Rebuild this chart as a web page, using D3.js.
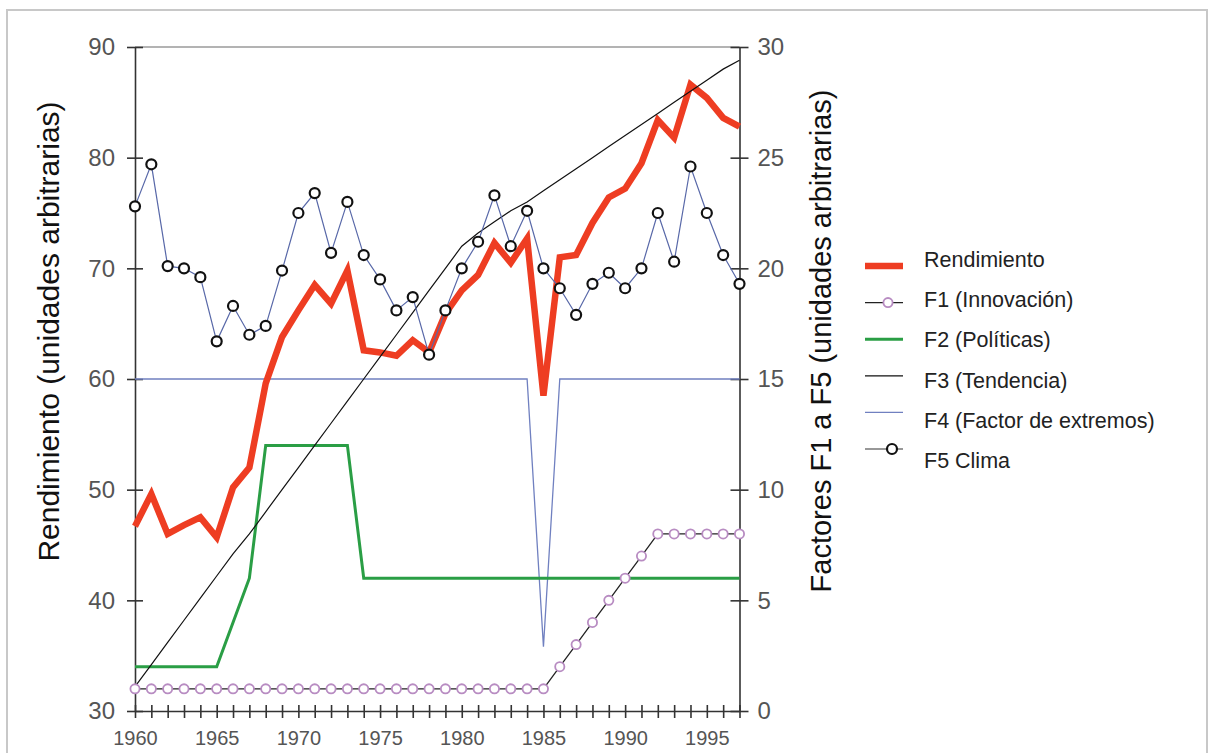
<!DOCTYPE html>
<html>
<head>
<meta charset="utf-8">
<script src="https://cdn.jsdelivr.net/npm/d3@7"></script>
<style>
  body { margin: 0; background: #fff; }
  svg { display: block; font-family: "Liberation Sans", Arial, sans-serif; }
</style>
</head>
<body>
<div id="chart"></div>
<script>
// Data
const years = [1960, 1961, 1962, 1963, 1964, 1965, 1966, 1967, 1968, 1969,
               1970, 1971, 1972, 1973, 1974, 1975, 1976, 1977, 1978, 1979,
               1980, 1981, 1982, 1983, 1984, 1985, 1986, 1987, 1988, 1989,
               1990, 1991, 1992, 1993, 1994, 1995, 1996, 1997];

// left axis
const rendimiento = [46.7, 49.6, 46.0, 46.8, 47.5, 45.7, 50.2, 52.0, 59.6, 63.8,
                     66.2, 68.5, 66.8, 69.8, 62.6, 62.4, 62.1, 63.5, 62.4, 65.9,
                     68.0, 69.4, 72.3, 70.5, 72.7, 58.5, 71.0, 71.2, 74.1, 76.4,
                     77.2, 79.5, 83.4, 81.8, 86.6, 85.4, 83.6, 82.8];

// right axis (factors)
const f1Innovacion = [1, 1, 1, 1, 1, 1, 1, 1, 1, 1,
                      1, 1, 1, 1, 1, 1, 1, 1, 1, 1,
                      1, 1, 1, 1, 1, 1, 2, 3, 4, 5,
                      6, 7, 8, 8, 8, 8, 8, 8];
const f2Politicas = [2, 2, 2, 2, 2, 2, 4, 6, 12, 12,
                     12, 12, 12, 12, 6, 6, 6, 6, 6, 6,
                     6, 6, 6, 6, 6, 6, 6, 6, 6, 6,
                     6, 6, 6, 6, 6, 6, 6, 6];
const f3Tendencia = [1.1, 2.1, 3.1, 4.1, 5.1, 6.1, 7.1, 8.0, 9.0, 10.0,
                     11.0, 12.0, 13.0, 14.0, 15.0, 16.0, 17.0, 18.0, 19.0, 20.0,
                     21.0, 21.6, 22.1, 22.6, 23.0, 23.5, 24.0, 24.5, 25.0, 25.5,
                     26.0, 26.5, 27.0, 27.5, 28.0, 28.5, 29.0, 29.4];
const f4Extremos = [15, 15, 15, 15, 15, 15, 15, 15, 15, 15,
                    15, 15, 15, 15, 15, 15, 15, 15, 15, 15,
                    15, 15, 15, 15, 15, 2.9, 15, 15, 15, 15,
                    15, 15, 15, 15, 15, 15, 15, 15];
const f5Clima = [22.8, 24.7, 20.1, 20.0, 19.6, 16.7, 18.3, 17.0, 17.4, 19.9,
                 22.5, 23.4, 20.7, 23.0, 20.6, 19.5, 18.1, 18.7, 16.1, 18.1,
                 20.0, 21.2, 23.3, 21.0, 22.6, 20.0, 19.1, 17.9, 19.3, 19.8,
                 19.1, 20.0, 22.5, 20.3, 24.6, 22.5, 20.6, 19.3];

const leftTicks = [30, 40, 50, 60, 70, 80, 90];
const rightTicks = [0, 5, 10, 15, 20, 25, 30];
const xLabelYears = [1960, 1965, 1970, 1975, 1980, 1985, 1990, 1995];

const legendLabels = ["Rendimiento", "F1 (Innovación)", "F2 (Políticas)",
                      "F3 (Tendencia)", "F4 (Factor de extremos)", "F5 Clima"];

const width = 1209, height = 753;
const plot = { left: 135, right: 739.5, top: 47, bottom: 711 };

const svg = d3.select("#chart").append("svg")
    .attr("width", width)
    .attr("height", height);

// outer frame
svg.append("rect")
    .attr("x", 7).attr("y", 10)
    .attr("width", 1200).attr("height", 800)
    .attr("fill", "#fff")
    .attr("stroke", "#c8c8c8")
    .attr("stroke-width", 2);

// scales
const x = d3.scaleLinear().domain([1960, 1997]).range([plot.left, plot.right]);
const yL = d3.scaleLinear().domain([30, 90]).range([plot.bottom, plot.top]);
const yR = d3.scaleLinear().domain([0, 30]).range([plot.bottom, plot.top]);

// top border of the plot
svg.append("line")
    .attr("x1", plot.left).attr("x2", plot.right)
    .attr("y1", plot.top).attr("y2", plot.top)
    .attr("stroke", "#9a9a9a")
    .attr("stroke-width", 1.5);

// axes
const axisColor = "#333";
const labelColor = "#555";

const gx = svg.append("g")
    .attr("transform", `translate(0,${plot.bottom})`)
    .call(d3.axisBottom(x)
        .tickValues(years)
        .tickSizeInner(7)
        .tickSizeOuter(0)
        .tickPadding(13)
        .tickFormat(d => xLabelYears.includes(d) ? d : ""));
gx.selectAll(".tick line").attr("y1", -6);
gx.selectAll("text").attr("font-size", 20).attr("fill", labelColor)
    .attr("font-family", "Liberation Sans, Arial, sans-serif");

const gl = svg.append("g")
    .attr("transform", `translate(${plot.left},0)`)
    .call(d3.axisLeft(yL)
        .tickValues(leftTicks)
        .tickSizeInner(8)
        .tickSizeOuter(0)
        .tickPadding(12));
gl.selectAll(".tick line").attr("x1", 8);
gl.selectAll("text").attr("font-size", 24).attr("fill", labelColor)
    .attr("font-family", "Liberation Sans, Arial, sans-serif");

const gr = svg.append("g")
    .attr("transform", `translate(${plot.right},0)`)
    .call(d3.axisRight(yR)
        .tickValues(rightTicks)
        .tickSizeInner(9)
        .tickSizeOuter(0)
        .tickPadding(9));
gr.selectAll(".tick line").attr("x1", -9);
gr.selectAll("text").attr("font-size", 24).attr("fill", labelColor)
    .attr("font-family", "Liberation Sans, Arial, sans-serif");

[gx, gl, gr].forEach(g => {
    g.selectAll(".domain, .tick line").attr("stroke", axisColor).attr("stroke-width", 1.6);
});

// axis titles
svg.append("text")
    .attr("transform", `translate(59,${(93 + 570) / 2}) rotate(-90)`)
    .attr("text-anchor", "middle")
    .attr("font-size", 30)
    .attr("fill", "#111")
    .text("Rendimiento (unidades arbitrarias)");

svg.append("text")
    .attr("transform", `translate(831,${(90 + 592) / 2}) rotate(-90)`)
    .attr("text-anchor", "middle")
    .attr("font-size", 29)
    .attr("fill", "#111")
    .text("Factores F1 a F5 (unidades arbitrarias)");

// series
const lineL = d3.line().x((d, i) => x(years[i])).y(d => yL(d));
const lineR = d3.line().x((d, i) => x(years[i])).y(d => yR(d));

const red = "#ee3d22";
const green = "#2a9e45";
const blue = "#7080c0";
const f5Line = "#5868a8";
const pink = "#b88cc2";

svg.append("path").datum(f4Extremos)
    .attr("fill", "none").attr("stroke", blue).attr("stroke-width", 1.3)
    .attr("d", lineR);

svg.append("path").datum(f2Politicas)
    .attr("fill", "none").attr("stroke", green).attr("stroke-width", 3)
    .attr("d", lineR);

svg.append("path").datum(rendimiento)
    .attr("fill", "none").attr("stroke", red).attr("stroke-width", 6.5)
    .attr("stroke-linejoin", "miter")
    .attr("d", lineL);

svg.append("path").datum(f3Tendencia)
    .attr("fill", "none").attr("stroke", "#111").attr("stroke-width", 1.2)
    .attr("d", lineR);

svg.append("path").datum(f5Clima)
    .attr("fill", "none").attr("stroke", f5Line).attr("stroke-width", 1.2)
    .attr("d", lineR);
svg.append("g").selectAll("circle")
    .data(f5Clima)
    .join("circle")
    .attr("cx", (d, i) => x(years[i]))
    .attr("cy", d => yR(d))
    .attr("r", 5)
    .attr("fill", "#fff")
    .attr("stroke", "#111")
    .attr("stroke-width", 2.2);

svg.append("path").datum(f1Innovacion)
    .attr("fill", "none").attr("stroke", "#222").attr("stroke-width", 1.3)
    .attr("d", lineR);
svg.append("g").selectAll("circle")
    .data(f1Innovacion)
    .join("circle")
    .attr("cx", (d, i) => x(years[i]))
    .attr("cy", d => yR(d))
    .attr("r", 4.6)
    .attr("fill", "#fff")
    .attr("stroke", pink)
    .attr("stroke-width", 1.8);

// legend
const legend = svg.append("g");
const lx1 = 865, lx2 = 903;
legendLabels.forEach((label, i) => {
    const sy = 266 + i * 36.6;
    const ty = 267 + i * 40.2;
    legend.append("text")
        .attr("x", 924).attr("y", ty)
        .attr("font-size", 21.5)
        .attr("fill", "#222")
        .text(label);
    if (i === 0) {
        legend.append("line").attr("x1", lx1).attr("x2", lx2).attr("y1", sy).attr("y2", sy)
            .attr("stroke", red).attr("stroke-width", 6.5);
    } else if (i === 1) {
        legend.append("line").attr("x1", lx1).attr("x2", lx2).attr("y1", sy).attr("y2", sy)
            .attr("stroke", "#222").attr("stroke-width", 1.3);
        legend.append("circle").attr("cx", 888).attr("cy", sy).attr("r", 4.6)
            .attr("fill", "#fff").attr("stroke", pink).attr("stroke-width", 1.8);
    } else if (i === 2) {
        legend.append("line").attr("x1", lx1).attr("x2", lx2).attr("y1", sy).attr("y2", sy)
            .attr("stroke", green).attr("stroke-width", 3);
    } else if (i === 3) {
        legend.append("line").attr("x1", lx1).attr("x2", lx2).attr("y1", sy).attr("y2", sy)
            .attr("stroke", "#111").attr("stroke-width", 1.2);
    } else if (i === 4) {
        legend.append("line").attr("x1", lx1).attr("x2", lx2).attr("y1", sy).attr("y2", sy)
            .attr("stroke", blue).attr("stroke-width", 1.3);
    } else {
        legend.append("line").attr("x1", lx1).attr("x2", lx2).attr("y1", sy).attr("y2", sy)
            .attr("stroke", "#333").attr("stroke-width", 1.2);
        legend.append("circle").attr("cx", 892).attr("cy", sy).attr("r", 5)
            .attr("fill", "#fff").attr("stroke", "#111").attr("stroke-width", 2.2);
    }
});
</script>
</body>
</html>
